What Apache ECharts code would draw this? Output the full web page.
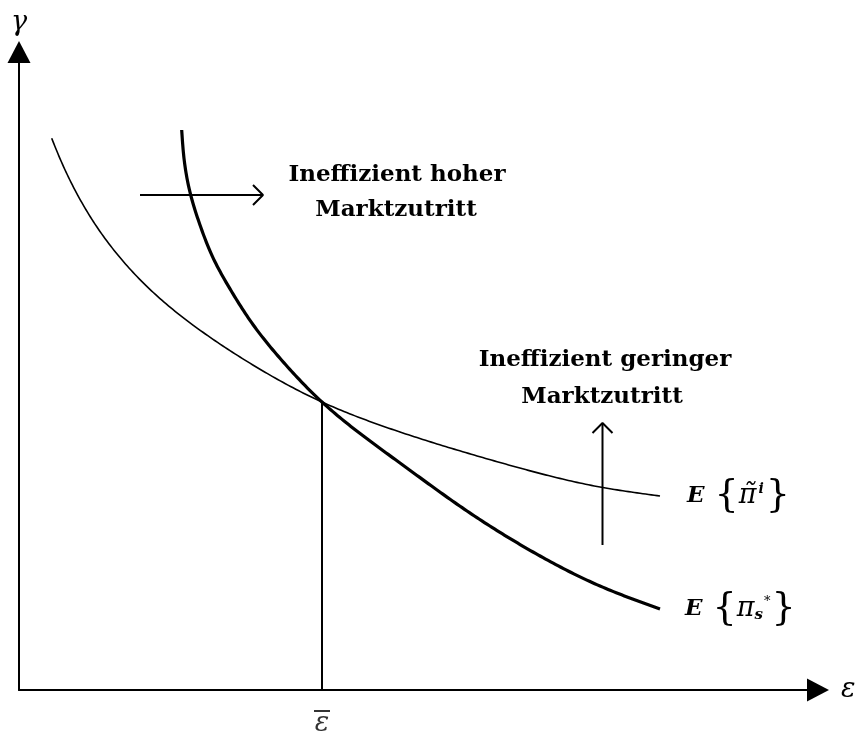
<!DOCTYPE html>
<html>
<head>
<meta charset="utf-8">
<script src="https://cdn.jsdelivr.net/npm/echarts@6/dist/echarts.min.js"></script>
<style>
  html, body { margin: 0; padding: 0; background: #fff; }
  #chart { width: 858px; height: 735px; }
</style>
</head>
<body>
<div id="chart"></div>
<script>
// Market entry ε on the horizontal axis, γ on the vertical axis (plot units).
const privateProfit = [[32.7, 551.7], [41, 531.4], [56, 499.9], [76, 465.9], [102.7, 430.4], [134.3, 397.5],
                       [174.3, 364.7], [221, 333], [303, 288], [381, 258], [481, 227.5], [581, 203], [641, 194]];
const socialProfit  = [[162.7, 560], [165, 531.7], [171.7, 495], [181, 465], [194.3, 431.7], [212.7, 398.3],
                       [234.3, 365], [261, 331.7], [303, 288], [381, 227], [448, 179], [514, 138], [581, 104], [641, 81]];
const epsBarLine    = [[303, 0], [303, 288]];
const epsBarMark    = [[303, 0]];

// direction arrows: shaft and open head
const rightShaft = [[121, 495], [244, 495]];
const rightHead  = [[234, 505], [244, 495], [234, 485]];
const upShaft    = [[583.5, 145], [583.5, 267]];
const upHead     = [[573.5, 257], [583.5, 267], [593.5, 257]];

const xMax = 799, yMax = 638;

const SERIF = "'DejaVu Serif', 'Liberation Serif', serif";
const LABEL_FONT = "bold 23px 'DejaVu Serif', serif";

const chart = echarts.init(document.getElementById('chart'), null, { renderer: 'canvas' });

function plainLine(data, width) {
  return {
    type: 'line', data: data, showSymbol: false, symbol: 'none', silent: true,
    lineStyle: { color: '#000', width: width }, animation: false, z: 3
  };
}

// second derivatives of a natural cubic spline through (t, v)
function splineM(t, v) {
  const n = t.length, M = new Array(n).fill(0);
  if (n < 3) return M;
  const a = [], b = [], c = [], d = [];
  for (let i = 1; i < n - 1; i++) {
    const h0 = t[i] - t[i - 1], h1 = t[i + 1] - t[i];
    a.push(h0); b.push(2 * (h0 + h1)); c.push(h1);
    d.push(6 * ((v[i + 1] - v[i]) / h1 - (v[i] - v[i - 1]) / h0));
  }
  const m = b.length;
  for (let i = 1; i < m; i++) {
    const w = a[i] / b[i - 1];
    b[i] -= w * c[i - 1]; d[i] -= w * d[i - 1];
  }
  const x = new Array(m);
  x[m - 1] = d[m - 1] / b[m - 1];
  for (let i = m - 2; i >= 0; i--) x[i] = (d[i] - c[i] * x[i + 1]) / b[i];
  for (let i = 0; i < m; i++) M[i + 1] = x[i];
  return M;
}

function splineEval(t, v, M, i, s) {
  const h = t[i + 1] - t[i], A = (t[i + 1] - s) / h, B = (s - t[i]) / h;
  return A * v[i] + B * v[i + 1] + ((A * A * A - A) * M[i] + (B * B * B - B) * M[i + 1]) * h * h / 6;
}

// smooth path through screen points, parametrised by chord length
function smoothPath(px) {
  const t = [0];
  for (let i = 1; i < px.length; i++) {
    t.push(t[i - 1] + Math.hypot(px[i][0] - px[i - 1][0], px[i][1] - px[i - 1][1]));
  }
  const xs = px.map(p => p[0]), ys = px.map(p => p[1]);
  const Mx = splineM(t, xs), My = splineM(t, ys);
  const out = [];
  for (let i = 0; i < px.length - 1; i++) {
    const steps = Math.max(4, Math.ceil((t[i + 1] - t[i]) / 3));
    for (let k = 0; k < steps; k++) {
      const s = t[i] + (t[i + 1] - t[i]) * k / steps;
      out.push([splineEval(t, xs, Mx, i, s), splineEval(t, ys, My, i, s)]);
    }
  }
  out.push(px[px.length - 1]);
  return out;
}

const mathRich = {
  E:   { fontFamily: SERIF, fontSize: 23, fontWeight: 'bold', fontStyle: 'italic', fill: '#000' },
  sp:  { width: 10 },
  pi:  { fontFamily: SERIF, fontSize: 27, fontStyle: 'italic', fill: '#000' },
  sup: { fontFamily: SERIF, fontSize: 14, fontStyle: 'italic', fontWeight: 'bold', fill: '#000', verticalAlign: 'top', padding: [5, 2, 0, 2] },
  sub: { fontFamily: SERIF, fontSize: 15, fontStyle: 'italic', fontWeight: 'bold', fill: '#000', verticalAlign: 'bottom', padding: [0, 0, 5, 0] },
  star:{ fontFamily: SERIF, fontSize: 13, fill: '#000', verticalAlign: 'top', padding: [5, 1, 0, 1] }
};

function curveSeries(points, width, labelText, labelGap) {
  return {
    type: 'custom', coordinateSystem: 'cartesian2d', data: [points[points.length - 1]],
    silent: true, z: 3, animation: false,
    renderItem: function (params, api) {
      const px = points.map(p => api.coord(p));
      const end = px[px.length - 1];
      return {
        type: 'group',
        children: [
          { type: 'polyline', shape: { points: smoothPath(px) },
            style: { stroke: '#000', lineWidth: width, fill: null, lineJoin: 'round' } },
          { type: 'text', x: end[0] + labelGap, y: end[1],
            style: { text: labelText, rich: mathRich, fontFamily: SERIF, fontSize: 38, fill: '#000',
                     align: 'left', verticalAlign: 'middle' } }
        ]
      };
    }
  };
}

const option = {
  backgroundColor: '#fff',
  animation: false,
  grid: { left: 19, right: 40, top: 52, bottom: 45, containLabel: false, outerBoundsMode: 'none' },
  xAxis: {
    type: 'value', min: 0, max: xMax,
    name: 'ε', nameLocation: 'end', nameGap: 23,
    nameTextStyle: { fontFamily: SERIF, fontSize: 27, fontStyle: 'italic', color: '#000', verticalAlign: 'middle' },
    axisLine: { show: true, onZero: false, symbol: ['none', 'triangle'], symbolSize: [23, 22],
                lineStyle: { color: '#000', width: 2 } },
    axisTick: { show: false }, axisLabel: { show: false }, splitLine: { show: false }
  },
  yAxis: {
    type: 'value', min: 0, max: yMax,
    name: 'γ', nameLocation: 'end', nameGap: 16,
    nameTextStyle: { fontFamily: SERIF, fontSize: 27, fontStyle: 'italic', color: '#000', align: 'center' },
    axisLine: { show: true, onZero: false, symbol: ['none', 'triangle'], symbolSize: [23, 22],
                lineStyle: { color: '#000', width: 2 } },
    axisTick: { show: false }, axisLabel: { show: false }, splitLine: { show: false }
  },
  series: [
    curveSeries(privateProfit, 1.6, '{E|E}{sp|}{{pi|π̃}{sup|i}}', 27),
    curveSeries(socialProfit, 3.2, '{E|E}{sp|}{{pi|π}{sub|s}{star|*}}', 25),
    plainLine(epsBarLine, 2),
    plainLine(rightShaft, 2),
    plainLine(rightHead, 2),
    plainLine(upShaft, 2),
    plainLine(upHead, 2),
    {
      type: 'scatter', data: epsBarMark, symbolSize: 0, silent: true,
      label: {
        show: true, position: 'bottom', distance: 19,
        formatter: '{bar|}\n{e|ε}',
        rich: {
          bar: { width: 16, height: 2, backgroundColor: '#000', lineHeight: 4 },
          e: { fontFamily: SERIF, fontSize: 27, fontStyle: 'italic', color: '#000', lineHeight: 22 }
        }
      }
    }
  ],
  graphic: [
    { type: 'text', style: { text: 'Ineffizient hoher', x: 397, y: 175, textAlign: 'center', textVerticalAlign: 'middle',
        font: LABEL_FONT, fill: '#000' } },
    { type: 'text', style: { text: 'Marktzutritt', x: 396, y: 210, textAlign: 'center', textVerticalAlign: 'middle',
        font: LABEL_FONT, fill: '#000' } },
    { type: 'text', style: { text: 'Ineffizient geringer', x: 605, y: 360, textAlign: 'center', textVerticalAlign: 'middle',
        font: LABEL_FONT, fill: '#000' } },
    { type: 'text', style: { text: 'Marktzutritt', x: 602, y: 397, textAlign: 'center', textVerticalAlign: 'middle',
        font: LABEL_FONT, fill: '#000' } }
  ]
};

chart.setOption(option);
</script>
</body>
</html>
